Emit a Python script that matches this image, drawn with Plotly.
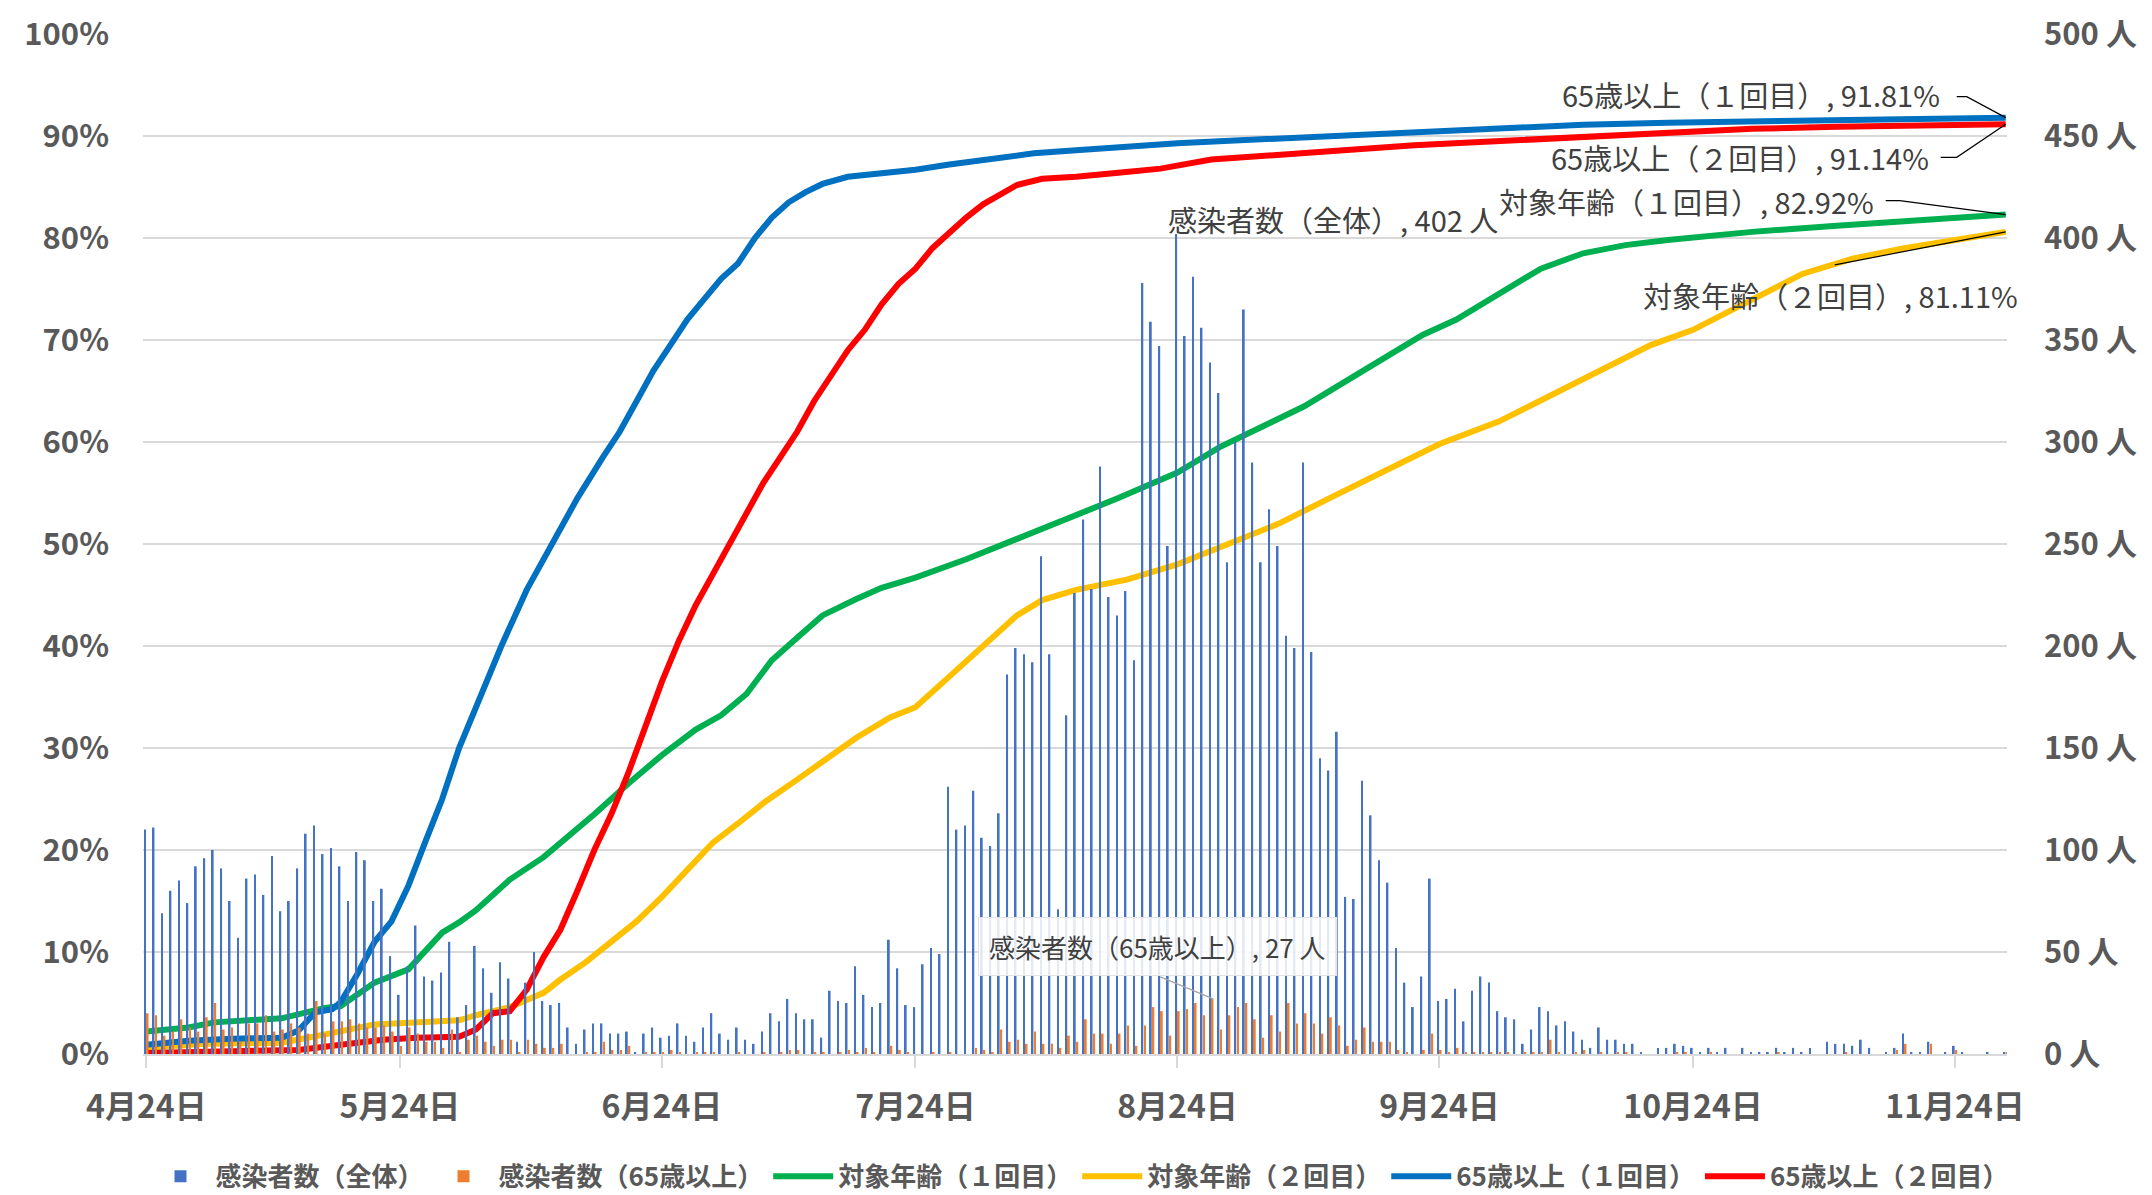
import pandas as pd
import plotly.graph_objects as go

START = pd.Timestamp("2021-04-24")

# 感染者数（全体）: daily values from 4/24 (221 days)
cases_all = [
    110, 111, 69, 80, 85, 74, 92, 96, 100, 91,
    75, 57, 86, 88, 78, 97, 70, 75, 91, 108,
    112, 98, 101, 92, 75, 99, 95, 75, 81, 48,
    29, 43, 63, 38, 36, 40, 55, 18, 24, 53,
    42, 30, 45, 37, 6, 35, 50, 26, 24, 25,
    13, 5, 12, 15, 15, 10, 10, 11, 1, 10,
    13, 8, 9, 15, 9, 6, 13, 20, 10, 7,
    13, 7, 5, 11, 20, 16, 27, 20, 17, 17,
    8, 31, 26, 25, 43, 29, 23, 25, 56, 42,
    24, 23, 44, 52, 49, 131, 110, 112, 129, 106,
    102, 118, 186, 199, 196, 192, 244, 196, 71, 166,
    226, 262, 228, 288, 224, 215, 227, 193, 378, 359,
    347, 249, 402, 352, 381, 356, 339, 324, 241, 300,
    365, 290, 241, 267, 249, 205, 199, 290, 197, 145,
    139, 158, 77, 76, 134, 117, 95, 84, 52, 35,
    23, 38, 86, 26, 27, 32, 16, 31, 38, 35,
    21, 18, 17, 5, 12, 23, 21, 14, 16, 11,
    7, 3, 13, 7, 7, 5, 5, 1, 0, 3,
    3, 5, 4, 3, 1, 3, 1, 3, 0, 3,
    1, 1, 1, 3, 1, 3, 1, 3, 0, 6,
    5, 5, 4, 7, 3, 0, 1, 3, 10, 1,
    1, 6, 0, 1, 4, 1, 0, 0, 1, 0,
    1,
]

# 感染者数（65歳以上）
cases_65 = [
    20, 19, 9, 11, 17, 13, 11, 18, 25, 12,
    13, 6, 15, 15, 19, 11, 12, 15, 13, 10,
    26, 10, 16, 16, 17, 15, 13, 13, 14, 11,
    4, 13, 10, 6, 6, 3, 12, 1, 7, 9,
    6, 4, 7, 7, 1, 7, 5, 3, 3, 5,
    0, 0, 1, 1, 6, 2, 2, 4, 0, 1,
    1, 1, 2, 1, 0, 1, 1, 1, 0, 0,
    1, 0, 0, 1, 0, 1, 2, 2, 0, 1,
    1, 0, 1, 2, 1, 3, 1, 0, 4, 2,
    1, 0, 0, 1, 0, 1, 0, 0, 3, 2,
    1, 12, 6, 7, 5, 11, 5, 5, 3, 9,
    6, 17, 10, 10, 5, 10, 14, 4, 14, 23,
    21, 9, 21, 22, 25, 19, 27, 12, 19, 23,
    25, 17, 8, 19, 11, 25, 15, 20, 15, 10,
    18, 14, 4, 7, 13, 6, 6, 6, 2, 1,
    0, 2, 10, 2, 1, 3, 1, 1, 1, 1,
    1, 1, 0, 1, 1, 1, 7, 1, 0, 1,
    2, 0, 1, 0, 1, 1, 0, 0, 0, 0,
    0, 1, 1, 0, 0, 1, 0, 0, 0, 0,
    0, 0, 0, 1, 0, 0, 0, 0, 0, 0,
    0, 1, 0, 0, 0, 0, 0, 2, 5, 0,
    0, 5, 0, 0, 2, 0, 0, 0, 0, 0,
    1,
]

# vaccination rates (%), sampled days since 4/24
green_days = [0, 5, 8, 16, 21, 23, 27, 29, 31, 35, 37, 39, 42, 43, 47, 49, 53, 57, 61, 65,
              68, 71, 74, 77, 80, 84, 87, 91, 97, 103, 109, 115, 122, 127, 132, 137, 141, 146,
              151, 155, 160, 165, 170, 175, 180, 190, 200, 210, 220]
green_vals = [2.2, 2.6, 3.1, 3.5, 4.5, 4.7, 7.0, 7.6, 8.3, 11.9, 12.9, 14.1, 16.4, 17.1, 19.3,
              20.7, 23.5, 26.5, 29.3, 31.8, 33.2, 35.3, 38.6, 40.8, 43.0, 44.6, 45.7, 46.7,
              48.5, 50.5, 52.5, 54.5, 57.0, 59.5, 61.5, 63.5, 65.5, 68.0, 70.5, 72.0, 74.5,
              77.0, 78.5, 79.3, 79.8, 80.6, 81.2, 81.8, 82.3]

yellow_days = [0, 7, 16, 19, 21, 27, 37, 39, 42, 43, 47, 49, 52, 55, 58, 61, 64, 67, 70, 73,
               77, 80, 84, 88, 91, 95, 99, 103, 106, 110, 116, 122, 128, 134, 140, 146, 153,
               160, 166, 172, 178, 183, 190, 196, 202, 208, 214, 220]
yellow_vals = [0.6, 1.0, 1.1, 1.5, 1.9, 2.9, 3.3, 3.8, 4.4, 4.6, 6.0, 7.3, 9.0, 11.0, 13.0,
               15.4, 18.0, 20.7, 22.6, 24.6, 26.9, 28.7, 31.0, 33.0, 34.0, 37.0, 40.0, 43.0,
               44.5, 45.5, 46.5, 48.0, 50.0, 52.0, 54.5, 57.0, 59.8, 62.0, 64.5, 67.0, 69.5,
               71.0, 74.0, 76.5, 78.0, 79.0, 79.8, 80.6]

blue_days = [0, 5, 10, 16, 18, 20, 22, 23, 25, 27, 29, 31, 33, 35, 37, 39, 42, 45, 48, 51, 54,
             56, 58, 60, 62, 64, 66, 68, 70, 72, 74, 76, 78, 80, 83, 87, 91, 95, 100, 105, 110,
             116, 122, 130, 140, 150, 160, 170, 180, 190, 200, 210, 220]
blue_vals = [0.9, 1.3, 1.5, 1.6, 2.3, 4.1, 4.4, 5.1, 7.9, 11.0, 13.0, 16.5, 20.8, 25.0, 30.0,
             34.0, 40.0, 45.5, 50.0, 54.5, 58.5, 61.0, 64.0, 67.0, 69.5, 72.0, 74.0, 76.0,
             77.5, 80.0, 82.0, 83.5, 84.5, 85.3, 86.0, 86.3, 86.7, 87.2, 87.8, 88.3, 88.6,
             89.0, 89.3, 89.6, 90.0, 90.4, 90.8, 91.1, 91.3, 91.45, 91.6, 91.7, 91.8]

red_days = [0, 10, 18, 24, 28, 32, 37, 39, 41, 43, 45, 47, 49, 51, 53, 55, 57, 59, 61, 63, 65,
            67, 69, 71, 73, 75, 77, 79, 81, 83, 85, 87, 89, 91, 93, 95, 97, 99, 101, 103, 106,
            110, 115, 120, 126, 132, 140, 150, 160, 170, 180, 190, 200, 210, 220]
red_vals = [0.1, 0.2, 0.4, 1.0, 1.4, 1.6, 1.7, 2.4, 4.0, 4.2, 6.3, 9.5, 12.2, 16.0, 20.0, 23.5,
            27.5, 32.0, 36.5, 40.5, 44.0, 47.0, 50.0, 53.0, 56.0, 58.5, 61.0, 64.0, 66.5,
            69.0, 71.0, 73.5, 75.5, 77.0, 79.0, 80.5, 82.0, 83.3, 84.3, 85.2, 85.8, 86.0,
            86.4, 86.8, 87.7, 88.0, 88.5, 89.1, 89.5, 90.0, 90.4, 90.7, 90.9, 91.05, 91.14]

tick_days = [0, 30, 61, 91, 122, 153, 183, 214]
tick_text = ["4月24日", "5月24日", "6月24日", "7月24日", "8月24日", "9月24日", "10月24日", "11月24日"]
pct_ticks = [0, 10, 20, 30, 40, 50, 60, 70, 80, 90, 100]
people_ticks = [0, 50, 100, 150, 200, 250, 300, 350, 400, 450, 500]

names = ["感染者数（全体）", "感染者数（65歳以上）", "対象年齢（１回目）", "対象年齢（２回目）",
         "65歳以上（１回目）", "65歳以上（２回目）"]
colors = ["#4472C4", "#ED7D31", "#00B050", "#FFC000", "#0070C0", "#FF0000"]


def d(k):
    return START + pd.Timedelta(days=k)


dates = [d(k) for k in range(len(cases_all))]

FONT = "Noto Sans CJK JP"
AX = "#595959"
TXT = "#404040"
GRID = "#D9D9D9"

fig = go.Figure()
fig.add_trace(go.Bar(x=dates, y=cases_all, name=names[0], marker_color=colors[0],
                     marker_line_width=0, yaxis="y2"))
fig.add_trace(go.Bar(x=dates, y=cases_65, name=names[1], marker_color=colors[1],
                     marker_line_width=0, yaxis="y2"))
for days, vals, nm, col in [(green_days, green_vals, names[2], colors[2]),
                            (yellow_days, yellow_vals, names[3], colors[3]),
                            (blue_days, blue_vals, names[4], colors[4]),
                            (red_days, red_vals, names[5], colors[5])]:
    fig.add_trace(go.Scatter(x=[d(k) for k in days], y=vals, name=nm,
                             mode="lines", line=dict(color=col, width=6), yaxis="y"))

# the page body adds an 8px offset, so the figure is 8px smaller than the window
fig.update_layout(
    width=2144, height=1187,
    margin=dict(l=135, r=145, t=26, b=141, autoexpand=False),
    paper_bgcolor="white", plot_bgcolor="white",
    barmode="group", bargap=0.4, bargroupgap=0.3,
    font=dict(family=FONT, color=TXT),
    showlegend=True,
    legend=dict(orientation="h", xref="container", x=0.5, xanchor="center",
                y=-0.12, yanchor="middle",
                font=dict(size=26, color=AX, weight="bold"), traceorder="normal",
                itemwidth=60),
    xaxis=dict(type="date", range=[d(-0.4), d(220.15)],
               tickvals=[d(k) for k in tick_days], ticktext=tick_text,
               tickfont=dict(size=32, color=AX, weight="bold"),
               showgrid=False, showline=True, linecolor=GRID, linewidth=2,
               ticks="outside", ticklen=12, tickwidth=2, tickcolor=GRID,
               ticklabelstandoff=12, zeroline=False, ticklabeloverflow="allow"),
    yaxis=dict(range=[0, 100], tickvals=pct_ticks, ticktext=[f"{v}%" for v in pct_ticks],
               showgrid=True, gridcolor=GRID, gridwidth=2, zeroline=False,
               tickfont=dict(size=31, color=AX, weight="bold"), ticklabelstandoff=33,
               ticklabeloverflow="allow"),
    yaxis2=dict(range=[0, 500], tickvals=people_ticks,
                ticktext=[f"{v} 人" for v in people_ticks], overlaying="y", side="right",
                showgrid=False, zeroline=False,
                tickfont=dict(size=31, color=AX, weight="bold"), ticklabelstandoff=36,
                ticklabeloverflow="allow"),
)

# end-of-line labels with leader lines
end_labels = [
    ("65歳以上（１回目）, 91.81%", blue_days[-1], blue_vals[-1], -64, 24,
     "M -49 21 L -39 21 L 0 0"),
    ("65歳以上（２回目）, 91.14%", red_days[-1], red_vals[-1], -75, -33,
     "M -65 -33 L -49 -33 L 0 0"),
    ("対象年齢（１回目）, 82.92%", green_days[-1], green_vals[-1], -130, 14,
     "M -120 14 L -106 14 L 0 0"),
    ("対象年齢（２回目）, 81.11%", yellow_days[-1], yellow_vals[-1], 14, -63,
     "M -171 -33 L 0 0"),
]
for text, k, v, xs, ys, path in end_labels:
    fig.add_annotation(x=d(k), y=v, xref="x", yref="y", text=text, showarrow=False,
                       xanchor="right", yanchor="middle", xshift=xs, yshift=ys,
                       font=dict(size=29, color=TXT))
    fig.add_shape(type="path", xref="x", yref="y", xsizemode="pixel", ysizemode="pixel",
                  xanchor=d(k), yanchor=v, path=path,
                  line=dict(color="#000000", width=1.2))

# bar data labels
k_all = cases_all.index(max(cases_all))
fig.add_annotation(x=d(k_all), y=cases_all[k_all], xref="x", yref="y2",
                   text=f"感染者数（全体）, {cases_all[k_all]} 人", showarrow=False,
                   xanchor="left", yanchor="middle", xshift=-11, yshift=15,
                   font=dict(size=29, color=TXT))
k65 = cases_65.index(max(cases_65))
fig.add_annotation(x=d(k65), y=cases_65[k65], xref="x", yref="y2",
                   text=f"感染者数（65歳以上）, {cases_65[k65]} 人", showarrow=False,
                   xanchor="center", yanchor="middle", xshift=-54, yshift=52,
                   font=dict(size=26, color=TXT), bgcolor="rgba(255,255,255,0.85)",
                   bordercolor="#E4E4E4", borderwidth=1, borderpad=10)
fig.add_shape(type="line", xref="x", yref="y2", xsizemode="pixel", ysizemode="pixel",
              xanchor=d(k65), yanchor=cases_65[k65], x0=-51, y0=22, x1=2, y1=0,
              line=dict(color="#A6A6A6", width=1.5))

fig.write_html("out.html")
